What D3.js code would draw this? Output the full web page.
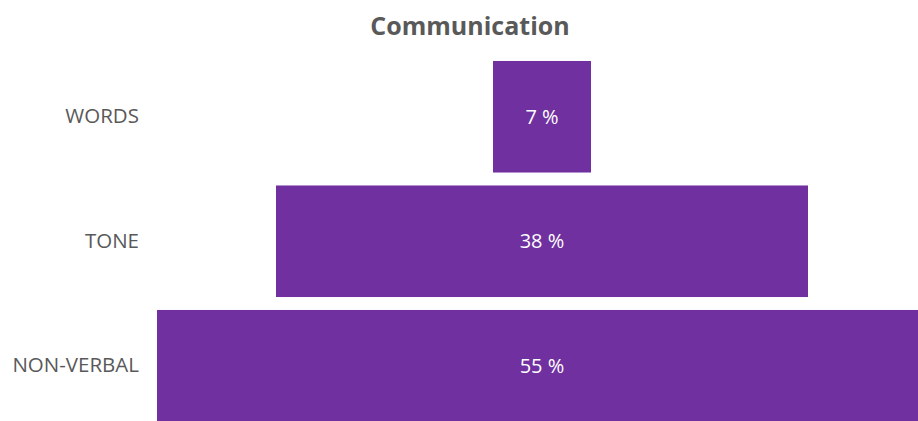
<!DOCTYPE html>
<html>
<head>
<meta charset="utf-8">
<script src="https://cdn.jsdelivr.net/npm/d3@7"></script>
<style>
  body { margin: 0; background: #fff; }
  text { font-family: "Open Sans", "Liberation Sans", sans-serif; }
</style>
</head>
<body>
<svg width="918" height="421"></svg>
<script>
var categories = ["WORDS", "TONE", "NON-VERBAL"];
var values = [7, 38, 55];
var valueLabels = ["7 %", "38 %", "55 %"];

var svg = d3.select("svg"),
    width = +svg.attr("width"),
    height = +svg.attr("height");

var centerX = 542;

// bar width per percent, bars centred like a funnel
var x = d3.scaleLinear()
    .domain([0, 55])
    .range([0, 770]);

var y = d3.scaleBand()
    .domain(categories)
    .range([54.5, 428])
    .paddingInner(0.104)
    .paddingOuter(0.052);

svg.append("text")
    .attr("x", 470)
    .attr("y", 35)
    .attr("text-anchor", "middle")
    .style("font-size", "25px")
    .style("font-weight", "bold")
    .style("fill", "#595959")
    .text("Communication");

var rows = svg.append("g")
    .selectAll("g")
    .data(categories)
    .enter()
    .append("g");

rows.append("rect")
    .attr("x", function (d, i) { return centerX - x(values[i]) / 2; })
    .attr("y", function (d) { return y(d); })
    .attr("width", function (d, i) { return x(values[i]); })
    .attr("height", y.bandwidth())
    .attr("fill", "#7030a0");

rows.append("text")
    .attr("x", centerX)
    .attr("y", function (d) { return y(d) + y.bandwidth() / 2; })
    .attr("dy", "0.35em")
    .attr("text-anchor", "middle")
    .style("font-size", "20px")
    .style("fill", "#ffffff")
    .text(function (d, i) { return valueLabels[i]; });

// category axis on the left, no line or ticks
var axis = svg.append("g")
    .attr("transform", "translate(139,0)")
    .call(d3.axisLeft(y).tickSize(0).tickPadding(0));
axis.select(".domain").remove();
axis.selectAll("text")
    .style("font-family", "\"Open Sans\", \"Liberation Sans\", sans-serif")
    .style("font-size", "20.5px")
    .style("fill", "#595959");
</script>
</body>
</html>
